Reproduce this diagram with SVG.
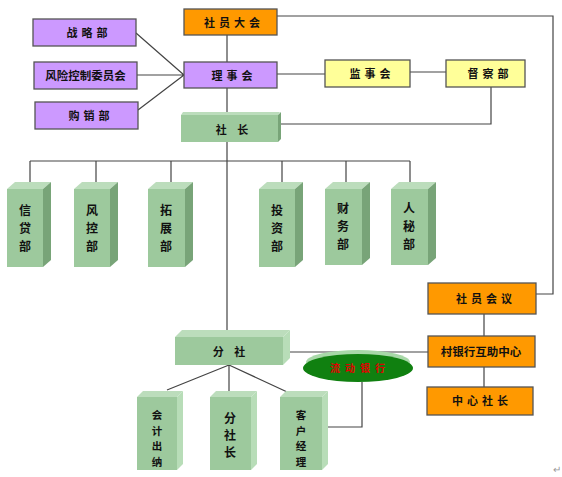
<svg xmlns="http://www.w3.org/2000/svg" width="562" height="477" viewBox="0 0 562 477">
<style>
text{font-family:"Noto Sans CJK SC","Liberation Sans",sans-serif;font-weight:700;fill:#111;text-anchor:middle}
.t{font-size:11px;letter-spacing:4px}
.c{stroke:#444;stroke-width:1.2;fill:none}
.pur{fill:#CC99FF;stroke:#555;stroke-width:1.3}
.org{fill:#FF9900;stroke:#555;stroke-width:1.3}
.yel{fill:#FFFF99;stroke:#555;stroke-width:1.3}
.gf{fill:#9DC99D}
.gt{fill:#BCDDBC}
.gs{fill:#78A478}
.gsl{fill:#B8DDB8}
.v{font-size:12px}
.vs{font-size:10.5px}
</style>
<rect width="562" height="477" fill="#fff"/>
<g id="connectors" class="c">
<path d="M227 35V62M227 88V112M227 142V337"/>
<path d="M30 161H410M30 161V182M96 161V182M171 161V182M282 161V182M346 161V182M410 161V182"/>
<path d="M136 33L184 75M137 75H184M138 110L184 75"/>
<path d="M277 74H325M410 72H446"/>
<path d="M491 87V124H278"/>
<path d="M277 16H553V294H536"/>
<path d="M484 314V336M484 367V387"/>
<path d="M290 352H428"/>
<path d="M229 365L167 390M229 365V391M229 365L298 397"/>
<path d="M362 382V427H322"/>
</g>
<g id="n-sydh"><rect class="org" x="184" y="9" width="93" height="26"/><text class="t" x="234" y="27">社员大会</text></g>
<g id="n-zlb"><rect class="pur" x="33" y="19" width="103" height="27"/><text class="t" x="89" y="37">战略部</text></g>
<g id="n-fxkz"><rect class="pur" x="34" y="62" width="103" height="27"/><text x="85.5" y="80" font-size="11.5">风险控制委员会</text></g>
<g id="n-gxb"><rect class="pur" x="35" y="102" width="103" height="27"/><text class="t" x="91" y="120">购销部</text></g>
<g id="n-lsh"><rect class="pur" x="184" y="62" width="93" height="26"/><text class="t" x="234" y="80">理事会</text></g>
<g id="n-jsh"><rect class="yel" x="325" y="60" width="85" height="27"/><text class="t" x="372" y="78">监事会</text></g>
<g id="n-dcb"><rect class="yel" x="446" y="60" width="79" height="27"/><text class="t" x="490" y="78">督察部</text></g>
<g id="n-sz">
<path class="gt" d="M183 112H280L278 115H181Z"/>
<path class="gs" d="M278 115L281 112V139L278 142Z"/>
<rect class="gf" x="181" y="115" width="97" height="27"/>
<text class="t" x="234" y="134">社  长</text>
</g>
<g id="n-xdb"><path class="gt" d="M7 189L15 182H51L43 189Z"/><path class="gs" d="M43 189L51 182V260L43 267Z"/><rect class="gf" x="7" y="189" width="36" height="78"/><text class="v"><tspan x="25" y="215">信</tspan><tspan x="25" y="233">贷</tspan><tspan x="25" y="251">部</tspan></text></g>
<g id="n-fkb"><path class="gt" d="M74 189L82 182H118L110 189Z"/><path class="gs" d="M110 189L118 182V260L110 267Z"/><rect class="gf" x="74" y="189" width="36" height="78"/><text class="v"><tspan x="92" y="215">风</tspan><tspan x="92" y="233">控</tspan><tspan x="92" y="251">部</tspan></text></g>
<g id="n-tzb"><path class="gt" d="M148 189L156 182H193L185 189Z"/><path class="gs" d="M185 189L193 182V260L185 267Z"/><rect class="gf" x="148" y="189" width="37" height="78"/><text class="v"><tspan x="166" y="215">拓</tspan><tspan x="166" y="233">展</tspan><tspan x="166" y="251">部</tspan></text></g>
<g id="n-tzb2"><path class="gt" d="M259 189L267 182H303L295 189Z"/><path class="gs" d="M295 189L303 182V260L295 267Z"/><rect class="gf" x="259" y="189" width="36" height="78"/><text class="v"><tspan x="277" y="215">投</tspan><tspan x="277" y="233">资</tspan><tspan x="277" y="251">部</tspan></text></g>
<g id="n-cwb"><path class="gt" d="M325 189L333 182H370L362 189Z"/><path class="gs" d="M362 189L370 182V258L362 265Z"/><rect class="gf" x="325" y="189" width="37" height="76"/><text class="v"><tspan x="343" y="213">财</tspan><tspan x="343" y="231">务</tspan><tspan x="343" y="249">部</tspan></text></g>
<g id="n-rmb"><path class="gt" d="M391 189L399 182H436L428 189Z"/><path class="gs" d="M428 189L436 182V258L428 265Z"/><rect class="gf" x="391" y="189" width="37" height="76"/><text class="v"><tspan x="409" y="213">人</tspan><tspan x="409" y="231">秘</tspan><tspan x="409" y="249">部</tspan></text></g>
<g id="n-fs">
<path class="gt" d="M175 337L182 330H290L283 337Z"/>
<path class="gsl" d="M283 337L290 330V358L283 365Z"/>
<rect class="gf" x="175" y="337" width="108" height="28"/>
<text class="t" x="231" y="356">分 社</text>
</g>
<g id="n-kjcn"><path class="gt" d="M137 397L143 391H183L177 397Z"/><path class="gsl" d="M177 397L183 391V464L177 470Z"/><rect class="gf" x="137" y="397" width="40" height="73"/><text class="vs"><tspan x="157" y="419">会</tspan><tspan x="157" y="434.5">计</tspan><tspan x="157" y="450">出</tspan><tspan x="157" y="465.5">纳</tspan></text></g>
<g id="n-fsz"><path class="gt" d="M210 397L216 391H257L251 397Z"/><path class="gsl" d="M251 397L257 391V464L251 470Z"/><rect class="gf" x="210" y="397" width="41" height="73"/><text class="v"><tspan x="230" y="423">分</tspan><tspan x="230" y="440">社</tspan><tspan x="230" y="457">长</tspan></text></g>
<g id="n-khjl"><path class="gt" d="M280 397L286 391H328L322 397Z"/><path class="gsl" d="M322 397L328 391V464L322 470Z"/><rect class="gf" x="280" y="397" width="42" height="73"/><text class="vs"><tspan x="301" y="419">客</tspan><tspan x="301" y="434.5">户</tspan><tspan x="301" y="450">经</tspan><tspan x="301" y="465.5">理</tspan></text></g>
<g id="n-ldyh">
<ellipse cx="358" cy="362" rx="52" ry="12" fill="#A8D8A8"/>
<ellipse cx="358" cy="368" rx="55" ry="14" fill="#108010"/>
<text x="360" y="372" font-size="10" style="fill:#E00000;letter-spacing:5px">流动银行</text>
</g>
<g id="n-syhy"><rect class="org" x="428" y="283" width="108" height="31"/><text class="t" x="486" y="303">社员会议</text></g>
<g id="n-cyh"><rect class="org" x="428" y="336" width="107" height="31"/><text x="481" y="356" font-size="11.5">村银行互助中心</text></g>
<g id="n-zxsz"><rect class="org" x="427" y="387" width="106" height="28"/><text class="t" x="482" y="405">中心社长</text></g>
<text x="557" y="473" font-size="10" style="fill:#999;font-weight:400">↵</text>
</svg>
